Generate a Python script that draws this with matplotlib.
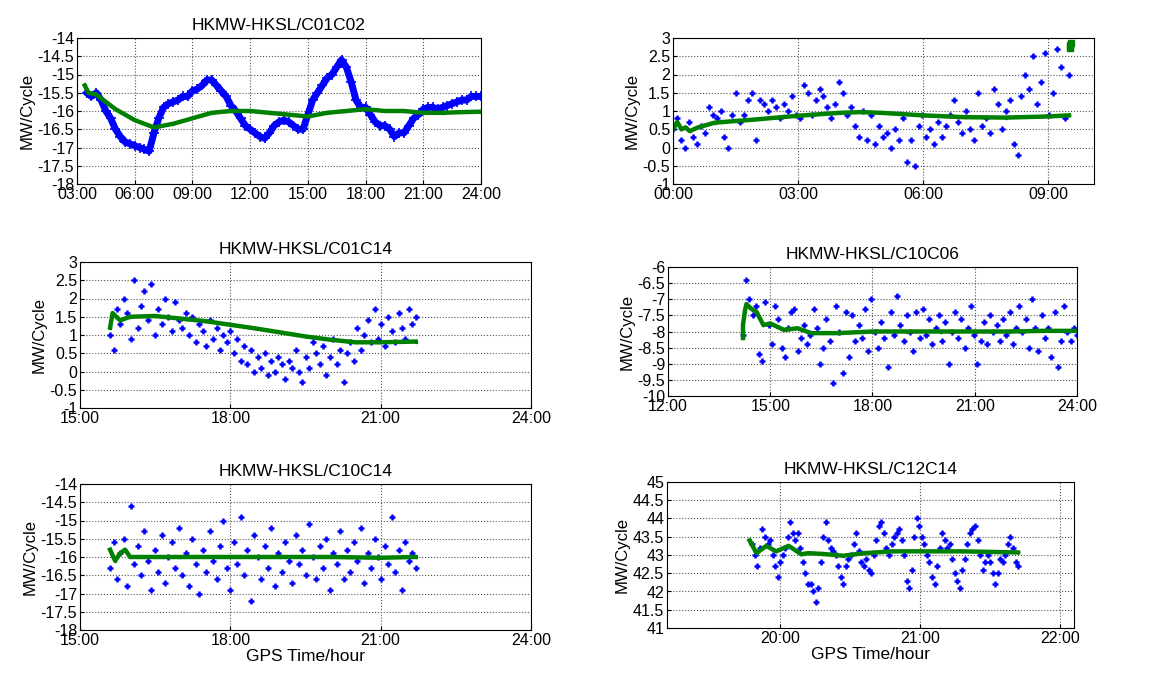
import numpy as np
import matplotlib
matplotlib.use("Agg")
import matplotlib.pyplot as plt
from matplotlib.ticker import FuncFormatter

plt.rcParams['font.family'] = ['Liberation Sans', 'DejaVu Sans']
plt.rcParams['font.size'] = 11.5

# ---------------- data (hours, MW in cycles) ----------------
titles = ["HKMW-HKSL/C01C02", "", "HKMW-HKSL/C01C14",
          "HKMW-HKSL/C10C06", "HKMW-HKSL/C10C14", "HKMW-HKSL/C12C14"]

# panel 1
p1_blue_span = (3.5, 24.0)
p1_blue = [-15.5, -15.6, -15.5, -15.7, -16.0, -16.2, -16.5, -16.7, -16.85, -16.9,
           -16.95, -17.0, -17.05, -17.1, -16.6, -16.2, -15.9, -15.8, -15.75, -15.7,
           -15.6, -15.6, -15.45, -15.4, -15.3, -15.15, -15.15, -15.3, -15.45, -15.6,
           -15.85, -16.0, -16.2, -16.4, -16.5, -16.6, -16.7, -16.75, -16.6, -16.4,
           -16.3, -16.25, -16.3, -16.4, -16.5, -16.5, -16.1, -15.7, -15.5, -15.3,
           -15.1, -15.0, -14.8, -14.6, -14.8, -15.2, -15.7, -15.9, -15.9, -16.1,
           -16.3, -16.4, -16.4, -16.5, -16.7, -16.6, -16.6, -16.4, -16.2, -16.1,
           -15.95, -15.9, -15.9, -15.95, -15.9, -15.85, -15.8, -15.75, -15.7, -15.7,
           -15.6, -15.6, -15.6]
p1_green_t = [3.4, 3.6, 4.0, 5.0, 6.0, 7.0, 8.0, 9.0, 10.0, 11.0, 12.0, 13.0,
              14.0, 15.0, 16.0, 17.0, 18.0, 19.0, 20.0, 21.0, 22.0, 23.0, 24.0]
p1_green = [-15.3, -15.5, -15.55, -15.95, -16.25, -16.45, -16.35, -16.2, -16.05, -16.0,
            -16.0, -16.05, -16.1, -16.15, -16.05, -16.0, -15.95, -16.0, -16.0, -16.05,
            -16.05, -16.03, -16.02]

# panel 2
p2_blue_span = (0.0, 9.5)
p2_blue = [0.5, 0.8, 0.2, 0.0, 0.7, 0.3, 0.1, 0.6, 0.4, 1.1,
           0.9, 0.8, 1.0, 0.3, 0.0, 0.9, 1.5, 0.7, 0.9, 1.3,
           1.5, 0.2, 1.3, 1.2, 1.0, 1.3, 1.1, 0.8, 1.2, 1.0,
           1.4, 0.9, 0.8, 1.7, 1.5, 0.9, 1.3, 1.6, 1.4, 1.1,
           0.8, 1.2, 1.8, 1.5, 0.9, 1.1, 0.6, 0.3, 1.0, 0.2,
           0.9, 0.1, 0.6, 0.3, 0.4, 0.0, 0.5, 0.2, 0.8, -0.4,
           0.2, -0.5, 0.6, 0.9, 0.3, 0.5, 0.1, 0.7, 0.3, 0.6,
           0.9, 1.3, 0.7, 0.4, 1.0, 0.5, 0.2, 1.5, 0.6, 0.8,
           0.4, 1.6, 1.2, 0.5, 1.0, 1.3, 0.1, -0.2, 1.4, 2.0,
           1.6, 2.5, 1.2, 1.8, 2.6, 0.9, 1.5, 2.7, 2.2, 0.8, 2.0]
p2_green_t = [0.0, 0.1, 0.2, 0.3, 0.4, 0.6, 1.0, 2.0, 3.0, 4.0, 4.5, 5.0, 6.0, 7.0, 8.0, 9.0, 9.5]
p2_green = [0.5, 0.7, 0.5, 0.55, 0.45, 0.55, 0.68, 0.77, 0.87, 0.95, 0.97, 0.95, 0.88, 0.83, 0.82, 0.85, 0.88]
p2_green_end_t = [9.52, 9.53, 9.54]
p2_green_end = [2.72, 2.8, 2.86]

# panel 3
p3_blue_span = (15.6, 21.7)
p3_blue = [1.0, 0.6, 1.7, 1.3, 2.0, 1.6, 0.9, 2.5, 1.2, 1.8,
           2.2, 1.4, 2.4, 1.0, 1.7, 1.3, 2.0, 1.5, 1.1, 1.9,
           1.4, 1.2, 1.6, 1.0, 1.5, 0.8, 1.3, 1.1, 0.7, 1.4,
           0.9, 1.2, 0.6, 1.0, 0.8, 1.1, 0.5, 0.9, 0.3, 0.7,
           0.2, 0.6, 0.0, 0.4, 0.1, 0.5, -0.1, 0.3, 0.0, 0.4,
           0.2, -0.2, 0.3, 0.1, 0.6, 0.0, -0.3, 0.4, 0.1, 0.8,
           0.5, 0.2, 0.7, -0.1, 0.4, 0.9, 0.2, 0.6, -0.3, 0.5,
           0.8, 0.3, 1.2, 0.6, 1.0, 1.4, 0.8, 1.7, 0.9, 1.3,
           0.7, 1.5, 1.1, 0.8, 1.6, 1.2, 0.9, 1.7, 1.3, 1.5]
p3_green_t = [15.6, 15.65, 15.8, 16.0, 16.5, 17.0, 17.5, 18.0, 18.5, 19.0, 19.5, 20.0, 20.5, 21.0, 21.7]
p3_green = [1.2, 1.6, 1.4, 1.5, 1.52, 1.45, 1.38, 1.28, 1.18, 1.07, 0.96, 0.87, 0.8, 0.8, 0.82]

# panel 4
p4_blue_span = (14.2, 24.0)
p4_blue = [-8.1, -6.4, -7.0, -7.5, -7.2, -8.7, -8.9, -7.1, -7.8, -8.4,
           -7.2, -7.6, -8.5, -8.8, -7.9, -7.4, -7.3, -8.6, -8.2, -7.8,
           -8.4, -8.1, -7.3, -7.9, -9.0, -8.5, -7.6, -8.3, -9.6, -7.2,
           -8.0, -9.3, -7.4, -8.8, -7.5, -8.3, -7.8, -8.2, -7.3, -8.6,
           -7.0, -8.0, -8.5, -7.7, -8.2, -9.1, -7.4, -8.1, -6.9, -7.8,
           -8.3, -7.5, -8.0, -8.6, -7.4, -8.2, -7.3, -8.1, -7.6, -8.4,
           -7.9, -7.5, -8.3, -7.7, -9.0, -8.0, -7.4, -8.2, -7.6, -8.5,
           -7.9, -7.2, -8.1, -9.0, -8.3, -7.7, -8.4, -7.5, -8.0, -7.8,
           -8.3, -7.6, -8.1, -7.4, -8.4, -7.9, -7.2, -8.0, -7.6, -8.5,
           -7.0, -7.9, -8.6, -7.5, -8.2, -7.9, -8.8, -7.4, -9.1, -8.3,
           -7.2, -8.0, -8.3, -7.9, -8.1]
p4_green_t = [14.2, 14.2, 14.25, 14.3, 14.45, 14.6, 14.8, 15.0, 15.2, 15.4, 15.8, 16.2,
              17.0, 18.0, 19.0, 20.0, 21.0, 22.0, 23.0, 24.0]
p4_green = [-8.2, -7.8, -7.4, -7.15, -7.3, -7.4, -7.8, -7.75, -7.85, -7.95, -7.9, -8.05,
            -8.05, -8.0, -8.0, -8.0, -8.0, -8.0, -7.98, -7.98]

# panel 5
p5_blue_span = (15.6, 21.7)
p5_blue = [-16.3, -15.6, -16.6, -15.9, -15.5, -16.8, -14.6, -16.2, -15.7, -16.5,
           -15.3, -16.1, -16.9, -15.8, -16.4, -15.4, -16.7, -16.0, -15.6, -16.3,
           -15.2, -16.5, -15.9, -16.8, -15.5, -16.2, -17.0, -15.8, -16.4, -15.3,
           -16.1, -16.6, -15.7, -15.0, -16.3, -16.9, -15.6, -16.2, -14.9, -16.5,
           -15.8, -17.2, -15.4, -16.0, -16.6, -15.7, -16.3, -15.2, -16.8, -15.9,
           -16.4, -15.6, -16.1, -16.7, -15.4, -16.2, -15.8, -16.5, -15.1, -16.0,
           -16.6, -15.7, -16.3, -15.5, -16.9, -15.9, -16.2, -15.3, -16.6, -15.8,
           -16.4, -15.6, -16.1, -15.2, -16.7, -15.9, -16.3, -15.5, -16.0, -16.6,
           -15.7, -16.2, -14.9, -16.4, -15.8, -16.9, -15.6, -16.1, -15.9, -16.3]
p5_green_t = [15.6, 15.7, 15.8, 15.9, 16.0, 16.3, 17.0, 18.0, 19.0, 20.0, 21.0, 21.7]
p5_green = [-15.8, -16.1, -15.9, -15.8, -16.0, -16.0, -16.0, -16.0, -16.0, -16.0, -16.02, -16.0]

# panel 6
p6_blue_span = (19.8, 21.7)
p6_blue = [43.3, 43.0, 42.7, 43.2, 43.7, 43.5, 43.3, 43.4, 43.0, 42.7,
           42.4, 42.8, 43.0, 43.2, 43.5, 43.9, 43.6, 43.4, 43.6, 43.2,
           42.8, 42.5, 42.2, 42.2, 42.0, 41.7, 42.1, 42.8, 43.5, 43.9,
           43.4, 43.2, 43.1, 43.0, 42.7, 42.4, 42.2, 42.7, 42.9, 43.0,
           43.3, 43.6, 43.1, 42.8, 42.7, 42.9, 42.6, 42.5, 43.0, 43.4,
           43.8, 43.9, 43.6, 43.2, 43.0, 43.3, 43.5, 43.6, 43.7, 43.4,
           43.0, 42.3, 42.1, 42.6, 43.5, 44.0, 43.8, 43.5, 43.3, 43.0,
           42.8, 42.4, 42.2, 42.7, 43.2, 43.6, 43.4, 43.2, 43.3, 42.9,
           42.5, 42.3, 42.1, 42.6, 42.9, 43.3, 43.6, 43.7, 43.8, 43.4,
           43.0, 42.6, 42.8, 43.0, 42.8, 42.5, 42.2, 42.5, 42.9, 42.8,
           43.0, 43.3, 43.5, 43.2, 42.8, 42.7]
p6_green_t = [19.78, 19.83, 19.9, 19.97, 20.06, 20.15, 20.2, 20.3, 20.45, 20.6, 20.8, 21.0, 21.3, 21.7]
p6_green = [43.4, 43.05, 43.25, 43.1, 43.25, 43.02, 43.05, 43.03, 42.98, 43.05, 43.1, 43.1, 43.1, 43.07]

# ---------------- layout ----------------
W, H = 1164, 675
boxes = [(77, 38, 481, 184), (673, 38, 1094, 184),
         (80, 262, 531, 408), (668, 267, 1077, 396),
         (80, 484, 531, 630), (667, 482, 1074, 628)]
xlims = [(3, 24), (0, 10.1), (15, 24), (12, 24), (15, 24), (19.19, 22.1)]
xticks = [range(3, 25, 3), range(0, 10, 3), range(15, 25, 3), range(12, 25, 3),
          range(15, 25, 3), range(20, 23)]
ylims = [(-18, -14), (-1, 3), (-1, 3), (-10, -6), (-18, -14), (41, 45)]

panels = [(p1_blue_span, p1_blue, p1_green_t, p1_green),
          (p2_blue_span, p2_blue, p2_green_t, p2_green),
          (p3_blue_span, p3_blue, p3_green_t, p3_green),
          (p4_blue_span, p4_blue, p4_green_t, p4_green),
          (p5_blue_span, p5_blue, p5_green_t, p5_green),
          (p6_blue_span, p6_blue, p6_green_t, p6_green)]

fig = plt.figure(figsize=(W / 100, H / 100), dpi=100)
hhmm = FuncFormatter(lambda v, p: f"{int(round(v)):02d}:00")

for i, (span, blue, gt, gv) in enumerate(panels):
    l, t, r, b = boxes[i]
    ax = fig.add_axes([l / W, 1 - b / H, (r - l) / W, (b - t) / H])
    bt = np.linspace(span[0], span[1], len(blue))
    if i == 0:
        ax.plot(bt, blue, '-', color='blue', lw=5, solid_capstyle='round')
        ax.plot(bt, blue, '+', color='blue', ms=7, mew=1.2)
    else:
        ax.plot(bt, blue, '+', color='blue', ms=5, mew=1.8)
    ax.plot(gt, gv, '-', color='green', lw=3.2, marker='.', ms=3)
    if i == 1:
        ax.plot(p2_green_end_t, p2_green_end, 's', color='green', ms=4)
    ax.set_xlim(*xlims[i])
    ax.set_ylim(*ylims[i])
    ax.set_xticks(list(xticks[i]))
    ax.xaxis.set_major_formatter(hhmm)
    ax.set_yticks(np.arange(ylims[i][0], ylims[i][1] + 0.01, 0.5))
    ax.yaxis.set_major_formatter(FuncFormatter(lambda v, p: f"{v:g}"))
    ax.grid(True, linestyle=':', color='#555555', lw=0.8)
    ax.tick_params(direction='in', length=3, labelsize=11.5, pad=2)
    for s in ax.spines.values():
        s.set_linewidth(0.8)
    ax.set_ylabel("MW/Cycle", fontsize=12, labelpad=2)
    if titles[i]:
        ax.set_title(titles[i], fontsize=12.5, pad=6)
    if i >= 4:
        ax.set_xlabel("GPS Time/hour", fontsize=12.5, labelpad=1)

fig.savefig("out.png", dpi=100)
